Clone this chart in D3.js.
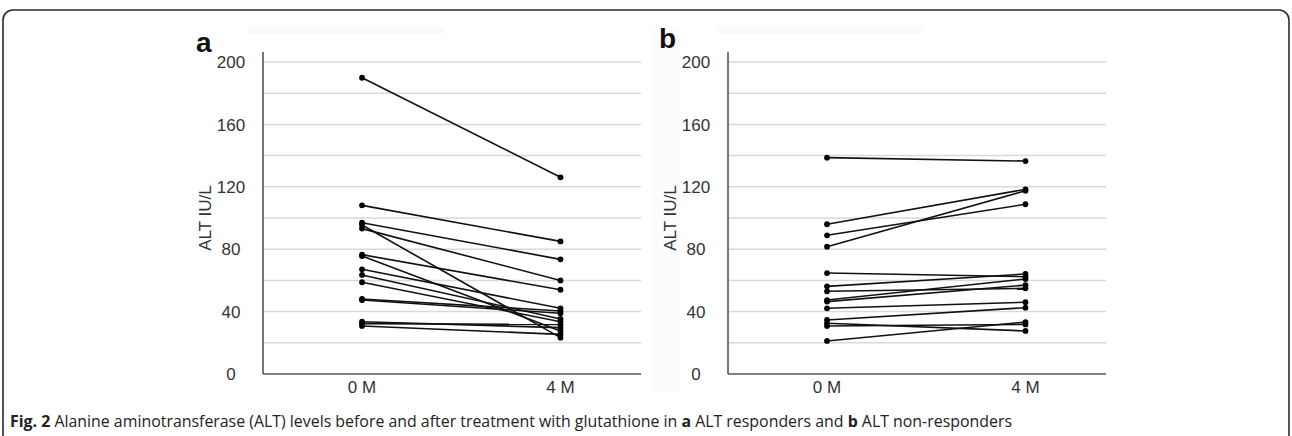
<!DOCTYPE html>
<html><head><meta charset="utf-8">
<script src="https://cdn.jsdelivr.net/npm/d3@7"></script>
<style>body{margin:0;background:#fff}svg{display:block}</style>
</head><body>
<svg id="c" width="1292" height="436"></svg>
<script>
const categories = ["0 M", "4 M"];
const yTicks = [0, 40, 80, 120, 160, 200];
const gridValues = [20, 40, 60, 80, 100, 120, 140, 160, 180, 200];
// Panel a: ALT responders
const respondersBefore = [189.9, 108.1, 97, 95.5, 93.2, 76.5, 75.6, 67.1, 63.5, 58.8, 48.1, 47.4, 33.5, 32.3, 30.8];
const respondersAfter  = [126.1, 85.0, 73.5, 23.3, 60.0, 54.0, 27.6, 42.1, 35.3, 33.5, 40.4, 38.9, 29.7, 31.8, 25.4];
// Panel b: ALT non-responders
const nonRespBefore = [138.7, 96, 88.9, 81.6, 64.7, 56.2, 53, 47.4, 46.4, 42.1, 34.6, 32.5, 30.8, 21.2];
const nonRespAfter  = [136.5, 118.4, 108.8, 117.5, 62.4, 64.1, 54.9, 60.9, 57, 46, 42.5, 27.6, 31.8, 33.3];
const yLabel = "ALT IU/L";
const captionParts = [["Fig. 2", true], [" Alanine aminotransferase (ALT) levels before and after treatment with glutathione in ", false],
  ["a", true], [" ALT responders and ", false], ["b", true], [" ALT non-responders", false]];

const svg = d3.select("#c");
const font = "'Liberation Sans', Arial, sans-serif";

// frame
svg.append("rect").attr("x", 3).attr("y", 10).attr("width", 1286).attr("height", 450)
  .attr("rx", 10).attr("fill", "none").attr("stroke", "#2b2b2b").attr("stroke-width", 1.6);

function panel(opts) {
  const {left, width, top, bottom, letter, letterX, letterY, before, after} = opts;
  const g = svg.append("g");
  g.append("rect").attr("x", opts.barX).attr("y", 27).attr("width", opts.barW).attr("height", 7).attr("fill", "#fafafa");
  if (opts.shade) g.append("rect").attr("x", left - 78).attr("y", 30).attr("width", 30).attr("height", 363).attr("fill", "#fcfcfc");
  const y = d3.scaleLinear().domain([0, 200]).range([bottom, top]);
  const x = d3.scalePoint().domain(categories).range([left + width * 0.262, left + width * 0.787]);
  g.selectAll(".grid").data(gridValues).join("line")
    .attr("x1", left).attr("x2", left + width).attr("y1", d => y(d)).attr("y2", d => y(d))
    .attr("stroke", "#d9d9d9").attr("stroke-width", 1.5);
  g.append("line").attr("x1", left).attr("x2", left).attr("y1", top - 10).attr("y2", bottom)
    .attr("stroke", "#555").attr("stroke-width", 1.6);
  g.append("line").attr("x1", left).attr("x2", left + width).attr("y1", bottom).attr("y2", bottom)
    .attr("stroke", "#555").attr("stroke-width", 1.6);
  g.selectAll(".yt").data(yTicks).join("text")
    .attr("x", left - 32).attr("y", d => y(d)).attr("dy", "0.36em").attr("text-anchor", "middle")
    .attr("font-family", font).attr("font-size", 17).attr("fill", "#333").text(d => d);
  g.selectAll(".xt").data(categories).join("text")
    .attr("x", d => x(d)).attr("y", bottom + 19).attr("text-anchor", "middle")
    .attr("font-family", font).attr("font-size", 17).attr("fill", "#333").text(d => d);
  g.append("text").attr("transform", `translate(${left - 52},${(top + bottom) / 2}) rotate(-90)`)
    .attr("text-anchor", "middle")
    .attr("font-family", font).attr("font-size", 17).attr("fill", "#333").text(yLabel);
  g.append("text").attr("x", letterX).attr("y", letterY).attr("font-family", font)
    .attr("font-size", 28).attr("font-weight", "bold").attr("fill", "#111").text(letter);
  const pairs = before.map((b, i) => [b, after[i]]);
  g.selectAll(".ln").data(pairs).join("line")
    .attr("x1", x(categories[0])).attr("x2", x(categories[1]))
    .attr("y1", d => y(d[0])).attr("y2", d => y(d[1]))
    .attr("stroke", "#111").attr("stroke-width", 1.6);
  pairs.forEach(p => {
    categories.forEach((c, j) => {
      g.append("circle").attr("cx", x(c)).attr("cy", y(p[j])).attr("r", 2.9).attr("fill", "#000");
    });
  });
}

panel({left: 263, width: 378, top: 62, bottom: 374, letter: "a", letterX: 196, letterY: 52,
  before: respondersBefore, after: respondersAfter, barX: 248, barW: 196});
panel({left: 728, width: 378, top: 62, bottom: 374, letter: "b", letterX: 659, letterY: 48,
  before: nonRespBefore, after: nonRespAfter, barX: 717, barW: 205, shade: true});

// caption: a single text line, sized to span the reference width
const capFont = "'Liberation Sans Narrow', 'Open Sans', sans-serif";
const cap = svg.append("text").attr("x", 10).attr("y", 427)
  .attr("font-family", capFont).attr("font-size", 17).attr("fill", "#222");
captionParts.forEach(([t, b]) => cap.append("tspan").attr("font-weight", b ? "bold" : "normal").text(t));
const len = cap.node().getComputedTextLength();
if (len > 0) cap.attr("font-size", Math.min(19, 17 * 1003 / len));
</script>
</body></html>
